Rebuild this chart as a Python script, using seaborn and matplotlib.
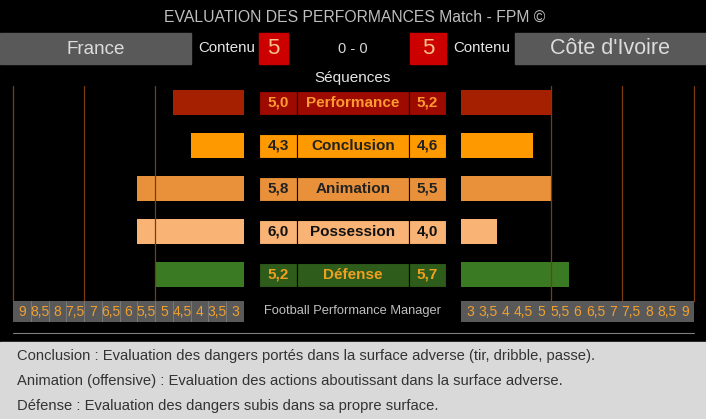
import numpy as np
import pandas as pd
import seaborn as sns
import matplotlib.pyplot as plt
from matplotlib.patches import Rectangle

# données
categories = ['Performance', 'Conclusion', 'Animation', 'Possession', 'Défense']
france = [5.0, 4.3, 5.8, 6.0, 5.2]
civ = [5.2, 4.6, 5.5, 4.0, 5.7]
teams = ['France', "Côte d'Ivoire"]
contenu = [5, 5]
score = '0 - 0'
echelle = [3, 3.5, 4, 4.5, 5, 5.5, 6, 6.5, 7, 7.5, 8, 8.5, 9]
reperes = [5.5, 7.5, 9.5]
titre = 'EVALUATION DES PERFORMANCES Match - FPM ©'
notes = ['Conclusion : Evaluation des dangers portés dans la surface adverse (tir, dribble, passe).',
         'Animation (offensive) : Evaluation des actions aboutissant dans la surface adverse.',
         'Défense : Evaluation des dangers subis dans sa propre surface.']

bar_colors = ['#a52000', '#ff9900', '#e8913a', '#f9b475', '#3a7a23']
cell_colors = ['#9c0a00', '#ff9900', '#e8913a', '#f9b475', '#2e5c1a']
txt_colors = ['#ff9933', '#222222', '#222222', '#111111', '#f0a020']

sns.set_style('dark')
plt.rcParams['font.family'] = ['Liberation Sans', 'DejaVu Sans']

W, H = 706, 419
fig = plt.figure(figsize=(W / 100, H / 100), dpi=100, facecolor='black')

# fond en pixels
bg = fig.add_axes([0, 0, 1, 1], zorder=-1)
bg.set_xlim(0, W)
bg.set_ylim(H, 0)
bg.axis('off')
bg.add_patch(Rectangle((0, 0), W, 342, color='black'))
bg.add_patch(Rectangle((0, 342), W, 77, color='#d9d9d9'))
bg.plot([13, 694], [333, 333], color='#7f7f7f', lw=0.8)
bg.text(355, 17, titre, ha='center', va='center', fontsize=11.3, color='#bfbfbf')
bg.add_patch(Rectangle((0, 33), 191, 31, color='#595959'))
bg.add_patch(Rectangle((515, 33), 191, 31, color='#595959'))
bg.text(96, 49, teams[0], ha='center', va='center', fontsize=13.5, color='#dcdcdc')
bg.text(610, 49, teams[1], ha='center', va='center', fontsize=15.5, color='#dcdcdc')
bg.add_patch(Rectangle((259, 33), 29, 31, color='#cc0000'))
bg.add_patch(Rectangle((410, 33), 36, 31, color='#cc0000'))
bg.text(273.5, 49, str(contenu[0]), ha='center', va='center', fontsize=16, color='#f9c38a')
bg.text(428, 49, str(contenu[1]), ha='center', va='center', fontsize=16, color='#f9c38a')
bg.text(227, 48, 'Contenu', ha='center', va='center', fontsize=10.8, color='#e6e6e6')
bg.text(482, 48, 'Contenu', ha='center', va='center', fontsize=10.8, color='#e6e6e6')
bg.text(353, 49, score, ha='center', va='center', fontsize=10.5, color='#d9d9d9')
bg.text(353, 78, 'Séquences', ha='center', va='center', fontsize=11, color='#e6e6e6')
bg.text(353, 311, 'Football Performance Manager', ha='center', va='center',
        fontsize=9.3, color='#bfbfbf')
for i, n in enumerate(notes):
    bg.text(17, 356 + 25 * i, n, ha='left', va='center', fontsize=10.6, color='#333333')

# barres : l'échelle avance par demi-points
top, bot = 86, 301
ylim = ((bot - 102.5) / 43, (top - 102.5) / 43)
y0 = 1 - bot / H
hh = (bot - top) / H


def side(vals, x0, x1, xl):
    ax = fig.add_axes([x0 / W, y0, (x1 - x0) / W, hh])
    df = pd.DataFrame({'cat': categories, 'val': np.ceil(np.array(vals) * 2) / 2})
    sns.barplot(data=df, x='val', y='cat', hue='cat', palette=bar_colors, orient='h',
                width=0.56, saturation=1, legend=False, linewidth=0, ax=ax)
    ax.set_xlim(*xl)
    ax.set_ylim(*ylim)
    for r in reperes:
        ax.axvline(r, color='#7a3d10', lw=0.9, zorder=5, clip_on=False)
    ax.axis('off')

    tk = fig.add_axes([x0 / W, 1 - 322 / H, (x1 - x0) / W, 21 / H])
    tk.set_facecolor('#595959')
    tk.set_xlim(*xl)
    tk.set_ylim(0, 1)
    for v in echelle:
        tk.text(v + 0.25, 0.5, str(v).replace('.', ','), ha='center', va='center',
                fontsize=10, color='#f0a030')
    tk.set_xticks([])
    tk.set_yticks([])
    for s in tk.spines.values():
        s.set_visible(False)
    return tk


tl = side(france, 13, 244, (9.5, 3))
for v in echelle:
    tl.axvline(v, color='#7f7f7f', lw=0.6)
side(civ, 461, 694, (3, 9.5))

# colonne centrale
mid = fig.add_axes([259 / W, y0, (446 - 259) / W, hh])
mid.set_xlim(259, 446)
mid.set_ylim(*ylim)
mid.axis('off')
h = 24 / 43
for i, c in enumerate(categories):
    for xa, xb in [(259, 297), (297, 409), (409, 446)]:
        mid.add_patch(Rectangle((xa, i - h / 2), xb - xa, h, facecolor=cell_colors[i],
                                edgecolor='black', lw=0.8))
    kw = dict(ha='center', va='center', fontsize=11, fontweight='bold', color=txt_colors[i])
    mid.text(278, i, f'{france[i]:.1f}'.replace('.', ','), **kw)
    mid.text(353, i, c, **kw)
    mid.text(427.5, i, f'{civ[i]:.1f}'.replace('.', ','), **kw)

fig.savefig('out.png', dpi=100, facecolor='black')
